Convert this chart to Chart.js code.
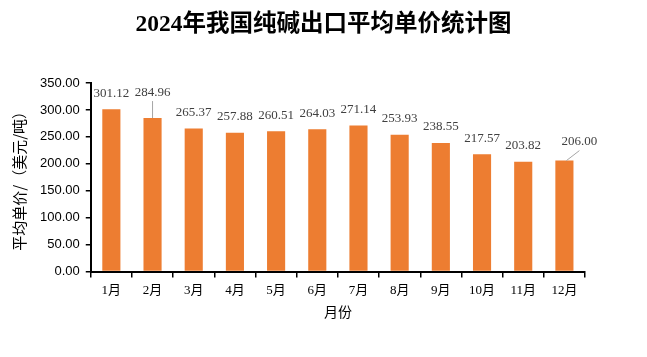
<!DOCTYPE html>
<html><head><meta charset="utf-8">
<script src="https://cdn.jsdelivr.net/npm/chart.js@4/dist/chart.umd.min.js"></script>
<style>html,body{margin:0;padding:0;background:#fff}#w{width:647px;height:357px}</style>
</head><body><div id="w"><canvas id="c"></canvas></div>
<script>
const months = ['1月','2月','3月','4月','5月','6月','7月','8月','9月','10月','11月','12月'];
const prices = [301.12,284.96,265.37,257.88,260.51,264.03,271.14,253.93,238.55,217.57,203.82,206.00];
const yTicks = [0,50,100,150,200,250,300,350];
const titleText = '2024年我国纯碱出口平均单价统计图';

const serif = '"Liberation Serif","Noto Sans CJK SC",serif';
const sans = '"Liberation Sans","Noto Sans CJK SC",sans-serif';
const labelOffsets = {1:{dx:0,dy:-9,line:true},11:{dx:15,dy:-3,line:true}};

const titlePlugin = {
  id:'ctitle',
  afterDraw(chart){
    const ctx = chart.ctx;
    ctx.save();
    ctx.font = 'bold 23.5px ' + serif;
    ctx.fillStyle = '#000';
    ctx.textAlign = 'center';
    ctx.textBaseline = 'middle';
    ctx.fillText(titleText, chart.width/2, 25);
    ctx.restore();
  }
};

const labelPlugin = {
  id:'vlabels',
  afterDatasetsDraw(chart){
    const ctx = chart.ctx;
    const meta = chart.getDatasetMeta(0);
    ctx.save();
    ctx.font = '13px ' + serif;
    ctx.fillStyle = '#404040';
    ctx.textAlign = 'center';
    ctx.textBaseline = 'middle';
    meta.data.forEach((bar,i)=>{
      const o = labelOffsets[i] || {dx:0,dy:0};
      const x = bar.x + o.dx;
      const y = bar.y - 16 + o.dy;
      if(o.line){
        ctx.strokeStyle = '#a6a6a6';
        ctx.lineWidth = 1;
        ctx.beginPath();
        if(i===1){ctx.moveTo(bar.x, y+8); ctx.lineTo(bar.x, bar.y);}
        else {ctx.moveTo(x, y+9); ctx.lineTo(bar.x+2, bar.y);}
        ctx.stroke();
      }
      ctx.fillText(prices[i].toFixed(2), x, y);
    });
    ctx.restore();
  }
};

new Chart(document.getElementById('c'),{
  type:'bar',
  data:{labels:months,datasets:[{data:prices,backgroundColor:'#ED7D31',barPercentage:0.44,categoryPercentage:1}]},
  options:{
    responsive:true,maintainAspectRatio:false,animation:false,
    layout:{padding:{left:6,right:62,top:83,bottom:33}},
    plugins:{legend:{display:false},tooltip:{enabled:false},title:{display:false}},
    scales:{
      x:{
        grid:{display:true,drawOnChartArea:false,tickLength:6,color:'#000',lineWidth:1.5,offset:true},
        border:{display:true,color:'#000',width:2},
        ticks:{color:'#000',font:{family:serif,size:13},padding:5,maxRotation:0},
        title:{display:true,text:'月份',color:'#000',font:{family:'"Noto Sans CJK SC",sans-serif',size:14},padding:{top:0}}
      },
      y:{
        min:0,max:350,
        afterBuildTicks(axis){axis.ticks = yTicks.map(v=>({value:v}));},
        grid:{display:true,drawOnChartArea:false,tickLength:5,color:'#000',lineWidth:1.5},
        border:{display:true,color:'#000',width:2},
        ticks:{color:'#000',font:{family:sans,size:13},padding:6,callback:v=>v.toFixed(2)},
        title:{display:true,text:'平均单价/（美元/吨）',color:'#000',font:{family:'"Noto Sans CJK SC",sans-serif',size:15},padding:{bottom:6}}
      }
    }
  },
  plugins:[labelPlugin,titlePlugin]
});
</script>
</body></html>
